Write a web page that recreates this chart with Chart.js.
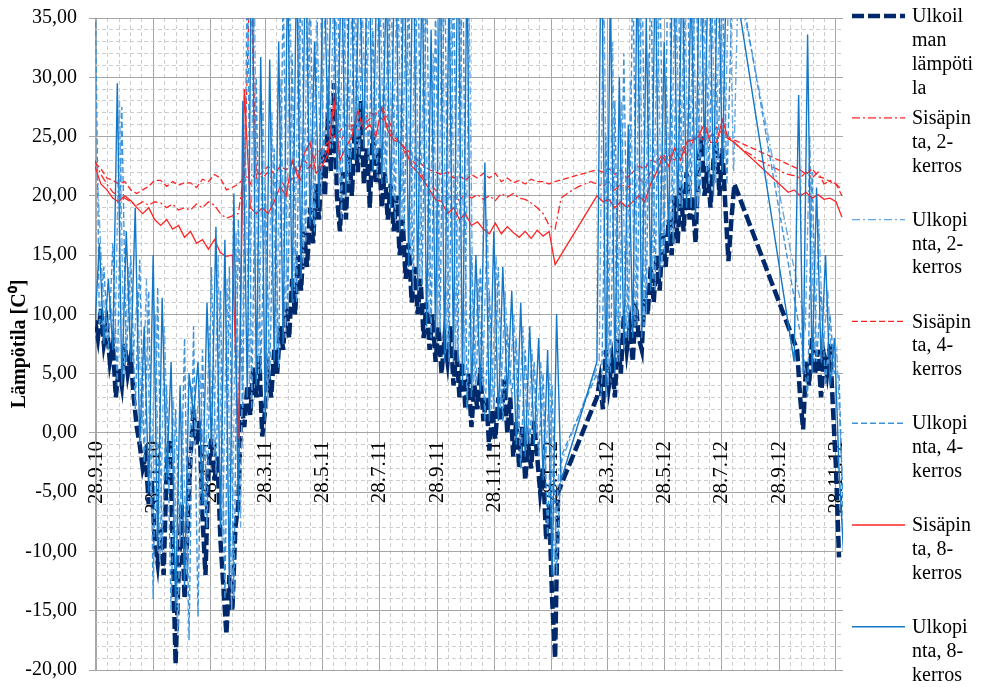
<!DOCTYPE html>
<html>
<head>
<meta charset="utf-8">
<script src="https://cdn.jsdelivr.net/npm/chart.js@4.4.1/dist/chart.umd.min.js"></script>
<style>
  html, body { margin: 0; padding: 0; background: #fff; }
  #wrap { width: 983px; height: 687px; }
</style>
</head>
<body>
<div id="wrap"><canvas id="tempChart" width="983" height="687"></canvas></div>
<script>
const tickLabels = ['28.9.10', '28.11.10', '28.1.11', '28.3.11', '28.5.11', '28.7.11', '28.9.11',
    '28.11.11', '28.1.12', '28.3.12', '28.5.12', '28.7.12', '28.9.12', '28.11.12'];

const seriesNames = ['Ulkoilman lämpötila', 'Sisäpinta, 2-kerros', 'Ulkopinta, 2-kerros',
    'Sisäpinta, 4-kerros', 'Ulkopinta, 4-kerros', 'Sisäpinta, 8-kerros', 'Ulkopinta, 8-kerros'];

// sample grids, in days from 28.9.2010
const airStart = -1.6, airStep = 3.2;
const innerStart = -1.6, innerStep = 6.4;
const outerStart = -1.6, outerStep = 4.8;
const outer2Start = 0.8;

// outdoor air
const airTemp = [
    9.5, 8, 10.5, 7.5, 9, 6, 7.5, 3, 5.5, 4,
    7.5, 5, 6.5, 3, 0.5, -1, -3, -2, -6, -4,
    -9, -11, -8, -12, -3, -0.5, -9, -19.5, -12, -6,
    -14, -8, -2, 2, -1, 1, -7, -12, -3, -0.5,
    -4, -2, -9, -13, -17, -12, -15, -8, -6, 2.5,
    0.5, 4, 1.5, 5.5, 3, 6.5, -0.3, 2, 5, 3,
    7, 5, 9, 7, 11, 8, 13, 10, 15, 12,
    17, 14, 19, 16, 21, 18, 24, 20, 27, 22,
    29.5, 20, 17, 22, 18, 24, 20, 26, 22, 28,
    21, 24, 19, 25.5, 21, 24, 19, 22, 18, 21,
    17, 20, 15, 18, 13, 16, 11, 14, 10, 13,
    8, 11, 7, 10, 6, 9, 5, 8, 6, 9,
    4, 7, 3, 6, 2, 5, 0.5, 4, 2, 5.5,
    1, 3, -1.5, 2, -0.5, 3, 1, 4.5, 0, 3,
    -2, 1, -3, 0.5, -4, -1, -3, 1, -2, -5,
    -3, -9, -6, -14, -19, -5, null, null, null, null,
    null, null, null, null, null, null, null, null, 3, 4.5,
    2, 7, 4, 6, 3, 8, 5, 10, 7, 9,
    6, 11, 8, 7, 12, 10, 14, 11, 15, 12,
    17, 14, 18, 15, 20, 16, 21, 17, 22, 18,
    20, 16, 23, 25, 20, 22.5, 19, 23, 24.5, 20,
    24, 19, 14.5, 18, 21, null, null, null, null, null,
    null, null, null, null, null, null, null, null, null, null,
    null, null, null, null, null, 7, 3, 0.3, 6, 4,
    8, 5, 7, 3, 6.5, 5, 7.5, 2, -3, -10.5
];

// inner surfaces
const inner2 = [
    23, 21.8, 21, 20.3, 20, 19.8, 19.5, 19.2, 19.5, 19.2,
    19.5, 19.4, 19, 19.3, 18.8, 19, 18.8, 19.3, 19, 19.5,
    19.2, 18.5, 18.1, 18.3, 18.5, 22, 21, 22.2, 21.5, 22,
    21, 21.5, 20.5, 21.5, 21, 22, 22.5, 22, 23, 24,
    25, 24.5, 25.5, 26, 25.5, 26.5, 27, 26.8, 27.5, 26.5,
    25.5, 24.5, 23.5, 23, 22.5, 21.5, 21, 20.5, 20.3, 19.8,
    20, 19.6, 20.2, 19.8, 20.1, 19.7, 20, 19.6, 20.2, 19.9,
    20.2, 19.8, 19.7, 19.4, 19, 18.5, 17.5, 17.2, 19.8, 20.2,
    20.5, 20.8, 21, 21.2, 21, 20.8, 21.2, 20.5, 21, 20.6,
    21.2, 21.5, 21, 22, 21.5, 22.5, 23.5, 23, 24, 23.5,
    24.5, 25.5, 24.5, 25.5, 24.8, 25.5, 25, 24.5, 24, 23.7,
    23.4, 23, 22.8, 22.5, 22.3, 22, 21.8, 21.7, 21.5, 22,
    21.5, 22, 21, 21.3, 21, 20.5
];
const inner4 = [
    22.8, 22.3, 21.5, 21.3, 21, 21.2, 20.5, 20.2, 20.5, 20.8,
    21.3, 21.3, 20.8, 21.2, 20.9, 21.1, 21.1, 20.7, 21.4, 21.2,
    21.8, 21.5, 20.5, 20.7, 21, 21.5, 40, 21.5, 22, 22.5,
    21.8, 22.5, 22.2, 22.8, 22, 23, 22.5, 23.5, 24, 24.5,
    25, 25.5, 26, 25.5, 26.5, 26, 26.5, 27, 26.5, 26,
    25, 24.5, 24, 23.5, 23, 22.5, 22.2, 22, 21.8, 22,
    21.5, 21.7, 21.3, 21.8, 21.5, 21.9, 21.5, 21.9, 21.2, 21.5,
    21.1, 21.3, 21, 21.4, 21.2, 21.2, 21, 21.2, null, null,
    null, null, null, null, 22.2, 22, 22.3, 21.8, 22.2, 21.5,
    22, 22.5, 22.3, 23, 22.8, 23.5, 23, 24, 23.8, 24.5,
    25, 24.6, 25.5, 25, 25.8, 25.2, 24.8, 24.7, null, null,
    null, null, null, null, null, null, null, null, 22.2, 21.8,
    22.3, 21.6, 21.5, 21.2, 21, 20
];
const inner8 = [
    22.5, 21, 20.5, 19.8, 19.5, 20, 19.6, 19, 18.5, 19,
    18, 17.5, 18, 17.2, 17.5, 16.5, 17, 16, 16.3, 15.5,
    16.3, 15.2, 14.9, 15, -0.5, 29, 19, 18.5, 19, 18.5,
    19.5, 20.8, 20, 23, 21.5, 23.5, 24.5, 21.9, 22.5, 23.5,
    28, 23, 24.1, 25, 27.2, 25.5, 26, 25, 27.4, 25.5,
    24.7, 24.5, 23.9, 22.5, 22, 21.3, 20.5, 19.7, 19.5, 18.5,
    19, 18, 18.5, 17.5, 17.8, 17.2, 16.8, 17.7, 16.8, 17.4,
    16.9, 16.5, 17, 16.4, 17.1, 16.6, 17, 14.2, null, null,
    null, null, null, null, 20, 19.5, 19.7, 19, 19.5, 19,
    19.5, 20, 19.5, 21, 22, 23.3, 22.5, 24, 23, 24.5,
    24.7, 25, 26.1, 24.5, 24.5, 26.4, 24.8, 24.5, null, null,
    null, null, null, null, null, null, 20.3, 20.5, 20, 20.3,
    19.8, 20.1, 19.7, 19.8, 19.5, 18.2
];

// outer surfaces
const outer2 = [
    22, 14, 8, 11, 7.5, 28, 5, 14, 6, 12,
    0, 13, -6, 10, -11, 9, -5, 3, -17, 2,
    -12, 4, 0, 5, -7, 9, -2, 15, -9, 13,
    -15, 17, -8, 26, 4, 40, 5, 28, 2, 27,
    7, 30, 8, 38, 12, 36, 14, 40, 18, 36,
    20, 40, 24, 42, 21, 38, 21, 40, 24, 38,
    25, 42, 23, 40, 22, 36, 20, 42, 18, 40,
    15, 38, 13, 38, 10, 32, 9, 40, 7, 36,
    7, 40, 5, 36, 4, 13, 4, 18, 2, 15,
    2, 12, 4, 10, 0, 9, -1, 7, 0, 6,
    -3, 5, -11, -3, null, null, null, null, null, null,
    null, null, 6, 40, 4, 33, 6, 28, 8, 30,
    9, 38, 9, 32, 13, 38, 14, 30, 17, 42,
    19, 38, 20, 36, 19, 42, 22, 40, 21, 40,
    23, 40, 22, 38, null, null, null, null, null, null,
    null, null, null, null, null, null, null, null, 9, 25,
    6, 18, 7, 12, 5, 7, -2, -9
];
const outer4 = [
    40, 9, 14, 7, 16, 4, 27.5, 6, 15, 2,
    14.6, -2.5, 12, -14, 12.3, -10, 4, -15, 2, -9,
    8, -17.5, 9, -15.5, 7, -8, 14, -3.5, 12, -14,
    14, -14, 18, 2, 40, 2, 30, 5, 21, 4.5,
    24, 5.5, 38, 10, 32, 11, 40, 16, 38, 17,
    45, 23, 30, 24, 42, 18, 40, 22, 38, 23,
    45, 23, 34, 21.5, 42, 21, 40, 18, 44, 17,
    38, 12, 42, 12.5, 40, 8, 36, 8.5, 42, 6,
    40, 6, 44, 2, 15, 4, 14, 1, 12, 2,
    14, 1, 9, 3, 8, -3, 7, -1, 6, -2,
    5, -9, 4, -12, -2, null, null, null, null, null,
    null, null, 5, 3, 25, 5, 28, 6, 32, 8,
    40, 9, 42, 10, 40, 12, 40, 15, 45, 16,
    42, 19, 45, 19, 42, 20, 40, 21, 40, 23,
    38, 21, 35, 40, null, null, null, null, null, null,
    null, null, null, null, null, null, null, null, 7, 3,
    22, 6, 12, 4, 10, 5, 5, -8
];
const outer8 = [
    9, 16, 7.5, 13, 7, 29.5, 4, 17, 6, 19,
    -1, 9, -5, 15, -10, 11.4, -4, 6, -15, 4,
    -13, 5, 1.5, 6, -6, 11, -1, 17.4, -8, 16.3,
    -13, 20.2, -7, 28, 3, 45, 4, 31.7, 1, 31.5,
    6, 33, 7.5, 40, 11, 40, 13, 42, 17.5, 33,
    19, 42, 25, 45, 22, 40, 20, 44, 23, 40,
    24, 45, 22, 41, 21, 38, 19, 45, 17, 42,
    14, 44, 12, 40, 9, 34, 8, 42, 6, 38,
    6, 44, 4, 40, 3, 15, 3.5, 22.8, 1, 17,
    1, 14, 3, 12, -1, 11, -2, 9, -1, 8,
    -4, 7, -12, 10, -4, null, null, null, null, null,
    null, null, 6, 45, 3, 38, 5, 30, 7, 26,
    8, 40, 8, 35, 12, 40, 13, 33, 16, 45,
    18, 40, 19, 38, 18, 45, 23, 44, 20, 42,
    22, 42, 40, null, null, null, null, null, null, null,
    null, null, null, null, null, null, 6, 28.5, 5, 33.6,
    5, 20.7, 6, 15, 4, 8, -3, -10
];

const DAY = 86400000;
const baseDate = Date.UTC(2010, 8, 28);
const dayOf = (label) => {
    const [d, m, y] = label.split('.').map(Number);
    return (Date.UTC(2000 + y, m - 1, d) - baseDate) / DAY;
};
const tickDays = tickLabels.map(dayOf);

// five minor steps between each pair of date gridlines
const minorDays = [];
for (let i = 0; i < tickDays.length - 1; i++) {
    const a = tickDays[i], b = tickDays[i + 1];
    for (let k = 1; k < 5; k++) minorDays.push(a + (b - a) * k / 5);
}
const minorTemps = [];
for (let t = -20; t <= 35; t++) if (t % 5 !== 0) minorTemps.push(t);

const toPoints = (start, step, values) =>
    values.map((v, i) => ({ x: start + i * step, y: v }));

const serif = '"Liberation Serif", "Times New Roman", serif';
const majorGrid = '#a6a6a6';
const minorGrid = '#cdcdcd';
const red = '#ff2424';

const line = (i, data, color, width, dash) => ({
    label: seriesNames[i],
    data,
    borderColor: color,
    backgroundColor: color,
    borderWidth: width,
    borderDash: dash,
    pointRadius: 0,
    pointHoverRadius: 0,
    tension: 0,
    spanGaps: true,
    fill: false,
    order: 10 - i,
});

// wraps legend text the way the narrow legend box does: after spaces and hyphens,
// or mid-word when a word is too long
function wrapLabel(ctx, text, maxWidth) {
    const fits = (s) => ctx.measureText(s.trimEnd()).width <= maxWidth;
    const lines = [];
    let cur = '';
    for (let tok of text.split(/(?<=[ -])/)) {
        if (fits(cur + tok)) { cur += tok; continue; }
        if (cur) { lines.push(cur.trimEnd()); cur = ''; }
        while (!fits(tok)) {
            let n = tok.length - 1;
            while (n > 1 && !fits(tok.slice(0, n))) n--;
            lines.push(tok.slice(0, n));
            tok = tok.slice(n);
        }
        cur = tok;
    }
    if (cur.trim()) lines.push(cur.trimEnd());
    return lines;
}

const sideLegend = {
    id: 'sideLegend',
    afterDraw(chart) {
        const { ctx, chartArea } = chart;
        const x0 = chartArea.right + 9;
        ctx.save();
        ctx.font = '20px ' + serif;
        ctx.textBaseline = 'middle';
        chart.data.datasets.forEach((ds, i) => {
            const top = 16 + i * 101.8;
            ctx.strokeStyle = ds.borderColor;
            ctx.lineWidth = ds.borderWidth;
            ctx.setLineDash(ds.borderDash || []);
            ctx.beginPath();
            ctx.moveTo(x0, top);
            ctx.lineTo(x0 + 53, top);
            ctx.stroke();
            ctx.setLineDash([]);
            ctx.fillStyle = '#000';
            wrapLabel(ctx, ds.label, 63).forEach((text, k) => {
                ctx.fillText(text, x0 + 60, top + 1 + k * 23.8);
            });
        });
        ctx.restore();
    },
};

new Chart(document.getElementById('tempChart'), {
    type: 'line',
    data: {
        datasets: [
            line(0, toPoints(airStart, airStep, airTemp), '#00296b', 4.5, [12, 4]),
            line(1, toPoints(innerStart, innerStep, inner2), red, 1.3, [8, 3, 2, 3]),
            line(2, toPoints(outer2Start, outerStep, outer2), '#67a7e2', 1.4, [8, 3, 2, 3]),
            line(3, toPoints(innerStart, innerStep, inner4), red, 1.3, [6, 3]),
            line(4, toPoints(outerStart, outerStep, outer4), '#3c93da', 1.4, [6, 3]),
            line(5, toPoints(innerStart, innerStep, inner8), red, 1.3, []),
            line(6, toPoints(outerStart, outerStep, outer8), '#1377c6', 1.4, []),
        ],
    },
    options: {
        responsive: false,
        devicePixelRatio: 1,
        animation: false,
        layout: { padding: { left: 0, top: 18, right: 140, bottom: 17 } },
        plugins: {
            legend: { display: false },
            tooltip: { enabled: false },
        },
        scales: {
            x: {
                type: 'linear',
                position: { y: 0 },
                min: -1.5,
                max: 799.5,
                afterBuildTicks: (scale) => {
                    scale.ticks = tickDays.map((v) => ({ value: v }));
                },
                ticks: {
                    autoSkip: false,
                    minRotation: 90,
                    maxRotation: 90,
                    padding: 8,
                    color: '#000',
                    font: { family: serif, size: 21 },
                    callback: (value) => {
                        const i = tickDays.indexOf(value);
                        return i >= 0 ? tickLabels[i] : '';
                    },
                },
                grid: { color: majorGrid, lineWidth: 1, drawTicks: false },
                border: { color: majorGrid, width: 1 },
            },
            xMinor: {
                type: 'linear',
                axis: 'x',
                position: { y: 0 },
                min: -1.5,
                max: 799.5,
                afterBuildTicks: (scale) => {
                    scale.ticks = minorDays.map((v) => ({ value: v }));
                },
                ticks: { display: false },
                grid: { color: minorGrid, lineWidth: 1, drawTicks: false },
                border: { display: false, dash: [4, 3] },
            },
            y: {
                type: 'linear',
                position: 'left',
                min: -20,
                max: 35,
                afterFit: (scale) => {
                    scale.width = 95;
                    scale.paddingTop = 0;
                    scale.paddingBottom = 0;
                },
                ticks: {
                    stepSize: 5,
                    padding: 12,
                    color: '#000',
                    font: { family: serif, size: 20 },
                    callback: (value) => value.toFixed(2).replace('.', ','),
                },
                grid: { color: majorGrid, lineWidth: 1, tickLength: 6, tickColor: majorGrid },
                border: { color: majorGrid, width: 1 },
                title: {
                    display: true,
                    text: 'Lämpötila [C\u2070]',
                    color: '#000',
                    padding: { top: 8, bottom: 0 },
                    font: { family: serif, size: 20, weight: 'bold' },
                },
            },
            yMinor: {
                type: 'linear',
                axis: 'y',
                position: 'left',
                min: -20,
                max: 35,
                afterBuildTicks: (scale) => {
                    scale.ticks = minorTemps.map((v) => ({ value: v }));
                },
                afterFit: (scale) => {
                    scale.width = 0;
                    scale.paddingTop = 0;
                    scale.paddingBottom = 0;
                },
                ticks: { display: false },
                grid: { color: minorGrid, lineWidth: 1, drawTicks: false },
                border: { display: false, dash: [4, 3] },
            },
        },
    },
    plugins: [sideLegend],
});
</script>
</body>
</html>
